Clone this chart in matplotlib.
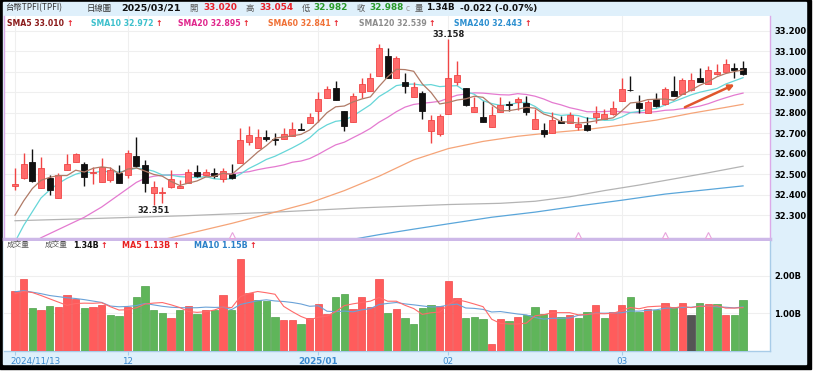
import numpy as np
import pandas as pd
import matplotlib
matplotlib.use('Agg')
import matplotlib.pyplot as plt
from matplotlib.patches import Rectangle
from matplotlib.transforms import ScaledTranslation, blended_transform_factory

plt.rcParams['font.family'] = ['DejaVu Sans', 'Noto Sans CJK TC']
CJK = ['Noto Sans CJK TC', 'DejaVu Sans']

# daily candles 2024/11/13 .. 2025/03/21 (85 sessions)
opens = [32.442, 32.480, 32.561, 32.434, 32.480, 32.382, 32.520, 32.561, 32.550, 32.504,
         32.463, 32.472, 32.507, 32.496, 32.589, 32.545, 32.410, 32.406, 32.436, 32.431,
         32.455, 32.512, 32.496, 32.504, 32.477, 32.499, 32.553, 32.655, 32.629, 32.681,
         32.672, 32.672, 32.688, 32.721, 32.751, 32.808, 32.870, 32.919, 32.808, 32.756,
         32.899, 32.907, 32.979, 33.077, 32.967, 32.948, 32.878, 32.898, 32.711, 32.695,
         32.792, 32.951, 32.922, 32.802, 32.781, 32.732, 32.805, 32.840, 32.854, 32.849,
         32.719, 32.718, 32.699, 32.761, 32.752, 32.730, 32.741, 32.777, 32.767, 32.793,
         32.858, 32.912, 32.849, 32.800, 32.866, 32.842, 32.907, 32.889, 32.910, 32.967,
         32.940, 32.988, 33.000, 33.016, 33.020]
highs = [32.529, 32.605, 32.621, 32.585, 32.496, 32.507, 32.597, 32.605, 32.561, 32.537,
         32.580, 32.537, 32.545, 32.618, 32.683, 32.569, 32.468, 32.436, 32.520, 32.471,
         32.524, 32.545, 32.525, 32.532, 32.529, 32.548, 32.724, 32.737, 32.719, 32.716,
         32.699, 32.727, 32.756, 32.748, 32.797, 32.899, 32.930, 32.955, 32.808, 32.894,
         32.968, 32.995, 33.133, 33.117, 33.076, 32.996, 32.951, 32.905, 32.789, 32.793,
         33.158, 33.052, 32.922, 32.878, 32.857, 32.834, 32.878, 32.857, 32.878, 32.881,
         32.818, 32.748, 32.805, 32.784, 32.802, 32.777, 32.777, 32.832, 32.816, 32.858,
         32.967, 32.979, 32.886, 32.862, 32.897, 32.927, 32.979, 32.967, 32.995, 33.019,
         33.027, 33.037, 33.060, 33.040, 33.054]
lows = [32.423, 32.478, 32.463, 32.434, 32.398, 32.382, 32.520, 32.560, 32.442, 32.452,
        32.463, 32.463, 32.459, 32.480, 32.537, 32.415, 32.351, 32.358, 32.431, 32.431,
        32.455, 32.488, 32.496, 32.483, 32.464, 32.477, 32.553, 32.642, 32.629, 32.662,
        32.642, 32.670, 32.688, 32.718, 32.748, 32.756, 32.870, 32.862, 32.712, 32.753,
        32.873, 32.907, 32.979, 32.971, 32.967, 32.894, 32.878, 32.770, 32.651, 32.688,
        32.792, 32.935, 32.835, 32.802, 32.756, 32.732, 32.802, 32.808, 32.813, 32.789,
        32.719, 32.683, 32.699, 32.748, 32.748, 32.715, 32.712, 32.751, 32.767, 32.788,
        32.858, 32.908, 32.800, 32.797, 32.826, 32.837, 32.881, 32.889, 32.907, 32.951,
        32.940, 32.983, 33.000, 32.967, 32.982]
closes = [32.452, 32.548, 32.468, 32.532, 32.423, 32.496, 32.548, 32.598, 32.488, 32.512,
          32.533, 32.520, 32.459, 32.602, 32.540, 32.455, 32.439, 32.415, 32.475, 32.442,
          32.512, 32.491, 32.512, 32.493, 32.516, 32.483, 32.667, 32.691, 32.683, 32.672,
          32.668, 32.694, 32.719, 32.718, 32.781, 32.867, 32.916, 32.862, 32.737, 32.881,
          32.938, 32.968, 33.117, 32.971, 33.065, 32.930, 32.927, 32.808, 32.765, 32.783,
          32.968, 32.984, 32.838, 32.829, 32.756, 32.789, 32.838, 32.837, 32.865, 32.802,
          32.769, 32.695, 32.766, 32.751, 32.789, 32.746, 32.714, 32.800, 32.793, 32.821,
          32.914, 32.910, 32.821, 32.853, 32.832, 32.918, 32.881, 32.959, 32.959, 32.951,
          33.008, 33.000, 33.037, 33.008, 32.988]
volume = [1.60, 1.91, 1.13, 1.08, 1.19, 1.16, 1.48, 1.37, 1.13, 1.17,
          1.23, 0.95, 0.93, 1.17, 1.43, 1.73, 1.08, 1.00, 0.87, 1.07,
          1.19, 0.97, 1.09, 1.09, 1.49, 1.09, 2.44, 1.53, 1.34, 1.32,
          0.89, 0.82, 0.82, 0.70, 0.87, 1.24, 0.97, 1.42, 1.50, 1.11,
          1.42, 1.15, 1.91, 1.00, 1.11, 0.87, 0.72, 1.13, 1.22, 1.19,
          1.86, 1.40, 0.87, 0.89, 0.84, 0.18, 0.84, 0.80, 0.89, 0.95,
          1.16, 0.98, 1.08, 0.89, 0.95, 0.86, 1.03, 1.21, 0.86, 1.02,
          1.22, 1.44, 1.04, 1.12, 1.09, 1.27, 1.15, 1.27, 0.95, 1.28,
          1.24, 1.25, 0.95, 0.95, 1.34]

# averages whose window reaches back before the first visible session
sma5_head = [32.30, 32.37, 32.43, 32.47]
sma10_head = [32.17, 32.25, 32.317, 32.384, 32.423, 32.455, 32.48, 32.50, 32.512]
sma20_head = [32.10, 32.13, 32.16, 32.19, 32.21, 32.23, 32.25, 32.27, 32.29, 32.315,
              32.34, 32.37, 32.40, 32.43, 32.46, 32.48, 32.49, 32.495, 32.497]
vma5_head = [1.52, 1.58, 1.55, 1.47]
vma10_head = [1.57, 1.60, 1.56, 1.52, 1.47, 1.44, 1.41, 1.39, 1.36]

# long averages, read at sample sessions
sma60_idx = [17, 21, 25, 30, 34, 38, 42, 46, 50, 54, 58, 62, 66, 70, 74, 78, 82, 84]
sma60_val = [32.18, 32.22, 32.26, 32.315, 32.36, 32.42, 32.49, 32.57, 32.625, 32.66,
             32.685, 32.703, 32.718, 32.74, 32.764, 32.797, 32.826, 32.841]
sma120_idx = [0, 10, 20, 30, 40, 50, 56, 60, 64, 68, 72, 76, 80, 84]
sma120_val = [32.273, 32.285, 32.298, 32.315, 32.336, 32.352, 32.358, 32.368, 32.39,
              32.42, 32.447, 32.477, 32.507, 32.539]
sma240_idx = [38, 42, 46, 50, 55, 60, 65, 70, 75, 80, 84]
sma240_val = [32.175, 32.205, 32.232, 32.258, 32.29, 32.315, 32.345, 32.373, 32.403,
              32.425, 32.443]

# legend texts as shown on the chart
sma_names = ['SMA5', 'SMA10', 'SMA20', 'SMA60', 'SMA120', 'SMA240']
sma_last = ['33.010', '32.972', '32.895', '32.841', '32.539', '32.443']
vol_last = '1.34B'
vma_last = ['1.13B', '1.15B']
change_txt = '-0.022 (-0.07%)'

month_idx = [0, 13, 35, 50, 70]
month_lbl = ['2024/11/13', '12', '2025/01', '02', '03']
event_idx = [25, 65, 75, 80]

W, H = 815, 373
fig = plt.figure(figsize=(W / 100, H / 100), dpi=100)
fig.patch.set_facecolor('white')


def fx(p):
    return p / W


def fy(p):
    return 1 - p / H


fig.add_artist(Rectangle((0, fy(369)), fx(811), fy(0) - fy(369), transform=fig.transFigure,
                         color='black', zorder=0))
fig.add_artist(Rectangle((fx(3), fy(364)), fx(806) - fx(3), fy(2) - fy(364),
                         transform=fig.transFigure, color='#dff0fb', zorder=0))

ax = fig.add_axes([fx(4), fy(239), fx(770) - fx(4), fy(16) - fy(239)])
axv = fig.add_axes([fx(4), fy(350.5), fx(770) - fx(4), fy(241) - fy(350.5)], sharex=ax)

o = np.array(opens)
h = np.array(highs)
l = np.array(lows)
c = np.array(closes)
v = np.array(volume)
x = np.arange(len(c))

up = c >= o
fill = np.where(up, '#ff6b6b', '#111111')
edge = np.where(up, '#f04545', '#111111')
ax.vlines(x, l, h, colors=edge, lw=1, zorder=3)
ax.bar(x, np.maximum(np.abs(c - o), 0.003), bottom=np.minimum(o, c), width=0.7,
       color=fill, edgecolor=edge, lw=0.6, zorder=4)

cl = pd.Series(c)
sma5 = cl.rolling(5).mean().to_numpy()
sma5[:len(sma5_head)] = sma5_head
sma10 = cl.rolling(10).mean().to_numpy()
sma10[:len(sma10_head)] = sma10_head
sma20 = cl.rolling(20).mean().to_numpy()
sma20[:len(sma20_head)] = sma20_head

ax.plot(sma240_idx, sma240_val, color='#5aa6da', lw=0.9, zorder=2)
ax.plot(sma120_idx, sma120_val, color='#b4b4b4', lw=0.9, zorder=2)
ax.plot(sma60_idx, sma60_val, color='#f5a478', lw=0.9, zorder=2)
ax.plot(x, sma20, color='#e47ad0', lw=0.9, zorder=2)
ax.plot(x, sma10, color='#66d6d8', lw=0.9, zorder=2)
ax.plot(x, sma5, color='#b07a66', lw=0.9, zorder=5)

ax.set_xlim(-1.27, 87.11)
ax.set_ylim(32.1839, 33.2717)
ax.set_yticks(np.round(np.arange(32.3, 33.21, 0.1), 1))
ax.set_yticklabels(['%.3f' % t for t in ax.get_yticks()])
ax.yaxis.tick_right()
ax.tick_params(axis='y', length=0, pad=3, labelsize=6)
for t in ax.get_yticklabels():
    t.set_fontweight('bold')
ax.set_xticks(month_idx)
ax.tick_params(axis='x', length=0, labelbottom=False)
ax.grid(True, color='#efefef', lw=0.8, zorder=0)
for s in ['left', 'right']:
    ax.spines[s].set_color('#dcaae8')
    ax.spines[s].set_linewidth(1)
ax.spines['top'].set_visible(False)
ax.spines['bottom'].set_color('#cdb8e8')
ax.spines['bottom'].set_linewidth(2.5)

# high / low labels
ih = int(np.argmax(h))
il = int(np.argmin(l))
ax.annotate('%.3f' % h[ih], (ih, h[ih]), xytext=(0, 0.5), textcoords='offset points',
            ha='center', va='bottom', fontsize=6, fontweight='bold', color='#222222')
ax.annotate('%.3f' % l[il], (il, l[il]), xytext=(0, -1), textcoords='offset points',
            ha='center', va='top', fontsize=6, fontweight='bold', color='#222222')

# event markers along the bottom edge
tb = blended_transform_factory(ax.transData, ax.transAxes)
ax.plot(event_idx, [0.018] * len(event_idx), linestyle='none', marker='^', ms=4,
        mfc='white', mec='#e8a4dc', mew=0.8, transform=tb, zorder=6, clip_on=False)

# trend arrow
ax.annotate('', xy=(83.3, 32.943), xytext=(77.0, 32.821),
            arrowprops=dict(arrowstyle='-|>', color='#e0562c', lw=1.8, mutation_scale=8))

# volume
prev = np.r_[c[0] - 1, c[:-1]]
vcol = np.where(c > prev, '#ff5c5c', np.where(c < prev, '#5fb55a', '#555555'))
vedge = np.where(c > prev, '#f04848', np.where(c < prev, '#4fa24a', '#444444'))
axv.bar(x, v, width=0.85, color=vcol, edgecolor=vedge, lw=0.5, zorder=3)
vs = pd.Series(v)
vma5 = vs.rolling(5).mean().to_numpy()
vma5[:len(vma5_head)] = vma5_head
vma10 = vs.rolling(10).mean().to_numpy()
vma10[:len(vma10_head)] = vma10_head
axv.plot(x, vma10, color='#6aa2d8', lw=0.8, zorder=4)
axv.plot(x, vma5, color='#ff6a6a', lw=0.8, zorder=5)

axv.set_ylim(0, 2.928)
axv.set_yticks([1, 2])
axv.set_yticklabels(['1.00B', '2.00B'])
axv.yaxis.tick_right()
axv.tick_params(axis='y', length=0, pad=3, labelsize=6)
for t in axv.get_yticklabels():
    t.set_fontweight('bold')
axv.set_xticks(month_idx)
axv.set_xticklabels(month_lbl)
axv.tick_params(axis='x', length=3, color='#a8cce8', pad=1.5, labelsize=6.3,
                labelcolor='#3a8ad0')
lbls = axv.get_xticklabels()
lbls[0].set_ha('left')
lbls[0].set_transform(lbls[0].get_transform() + ScaledTranslation(-0.05, 0, fig.dpi_scale_trans))
lbls[2].set_fontweight('bold')
axv.grid(True, color='#efefef', lw=0.8, zorder=0)
axv.spines['top'].set_visible(False)
axv.spines['left'].set_visible(False)
for s in ['right', 'bottom']:
    axv.spines[s].set_color('#a8cce8')
    axv.spines[s].set_linewidth(1)

renderer = fig.canvas.get_renderer()


def put(px, py, s, color, size=6, weight='bold', family=None):
    t = fig.text(fx(px), fy(py), s, color=color, fontsize=size, fontweight=weight,
                 va='center', ha='left', family=family or ['DejaVu Sans', 'Noto Sans CJK TC'])
    return t.get_window_extent(renderer).x1


# header row
put(5, 8, '台幣TPFI(TPFI)', '#333333', 6, 'normal', CJK)
put(87, 8, '日線圖', '#333333', 6, 'normal', CJK)
put(121, 8, '2025/03/21', '#111111', 6.8)
put(189, 8, '開', '#555555', 6, 'normal', CJK)
put(203, 8, '%.3f' % o[-1], '#e8202a', 6.4)
put(245, 8, '高', '#555555', 6, 'normal', CJK)
put(259, 8, '%.3f' % h[-1], '#e8202a', 6.4)
put(302, 8, '低', '#555555', 6, 'normal', CJK)
put(313, 8, '%.3f' % l[-1], '#2a9a2a', 6.4)
put(357, 8, '收', '#555555', 6, 'normal', CJK)
put(369, 8, '%.3f' % c[-1], '#2a9a2a', 6.4)
put(406, 8.5, 'c', '#999999', 5.5, 'normal')
put(415, 8, '量', '#555555', 6, 'normal', CJK)
put(426, 8, vol_last, '#111111', 6.4)
put(460, 8, change_txt, '#111111', 6.4)

# moving average legend
sma_x = [7, 91, 178, 268, 359, 454]
sma_col = ['#8b1a1a', '#3cc0cc', '#e0258c', '#f07035', '#8c8c8c', '#2c8fd0']
for px, name, val, col in zip(sma_x, sma_names, sma_last, sma_col):
    end = put(px, 24, '%s %s' % (name, val), col, 5.6)
    put(end + 2, 24, '↑', '#e8202a', 5.6)

# volume legend
put(7, 245, '成交量', '#555555', 5.5, 'normal', CJK)
put(45, 245, '成交量', '#555555', 5.5, 'normal', CJK)
end = put(73, 245, vol_last, '#111111', 5.8)
put(end + 2, 245, '↑', '#e8202a', 5.8)
end = put(122, 245, 'MA5 ' + vma_last[0], '#e82020', 5.8)
put(end + 2, 245, '↑', '#e8202a', 5.8)
end = put(194, 245, 'MA10 ' + vma_last[1], '#2a80c8', 5.8)
put(end + 2, 245, '↑', '#e8202a', 5.8)

fig.savefig('out.png', dpi=100, facecolor=fig.get_facecolor())
